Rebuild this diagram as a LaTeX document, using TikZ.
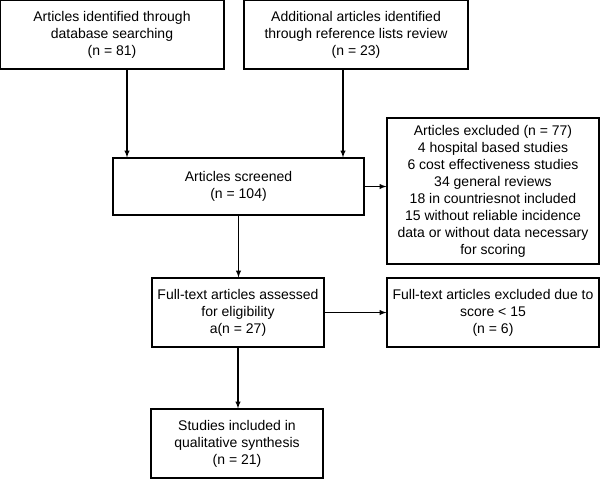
\documentclass[tikz,border=0pt]{standalone}
\usepackage{fontspec}
\setmainfont{Liberation Sans}
\usetikzlibrary{arrows}

\begin{document}
\begin{tikzpicture}[x=0.75pt, y=-0.75pt, >=latex, line width=0.8pt,
  every node/.style={font=\fontsize{10.5}{12.75}\selectfont, align=center, inner sep=0pt}]
\useasboundingbox (0,0) rectangle (600,479);
% Boxes
\node[draw, rectangle, minimum width=168pt, minimum height=51.75pt] (database) at (112,34.5) {Articles identified through\\database searching\\(n = 81)};
\node[draw, rectangle, minimum width=168pt, minimum height=51.75pt] (reflists) at (356,34.5) {Additional articles identified\\through reference lists review\\(n = 23)};
\node[draw, rectangle, minimum width=188.25pt, minimum height=42.75pt] (screened) at (238.5,186.5) {Articles screened\\(n = 104)};
\node[draw, rectangle, minimum width=159pt, minimum height=109.5pt] (excluded) at (493,191) {Articles excluded (n = 77)\\4 hospital based studies\\6 cost effectiveness studies\\34 general reviews\\18 in countriesnot included\\15 without reliable incidence\\data or without data necessary\\for scoring};
\node[draw, rectangle, minimum width=129pt, minimum height=51.75pt] (fulltext) at (238,312.5) {Full-text articles assessed\\for eligibility\\a(n = 27)};
\node[draw, rectangle, minimum width=159pt, minimum height=51.75pt] (score) at (493,312.5) {Full-text articles excluded due to\\score < 15\\(n = 6)};
\node[draw, rectangle, minimum width=129pt, minimum height=51.75pt] (included) at (237,443.5) {Studies included in\\qualitative synthesis\\(n = 21)};

% Arrows
\draw[->] ([xshift=11.25pt]database.south) -- ([xshift=11.25pt]database.south |- screened.north);
\draw[->] ([xshift=-9.75pt]reflists.south) -- ([xshift=-9.75pt]reflists.south |- screened.north);
\draw[->] (screened.east) -- (screened.east -| excluded.west);
\draw[->] (screened.south) -- (screened.south |- fulltext.north);
\draw[->] (fulltext.east) -- (fulltext.east -| score.west);
\draw[->] (fulltext.south) -- (fulltext.south |- included.north);
\end{tikzpicture}
\end{document}
